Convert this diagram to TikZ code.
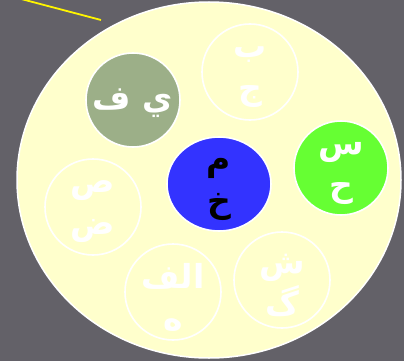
\documentclass[tikz,border=0pt]{standalone}
\usepackage{fontspec}
\usetikzlibrary{shapes.geometric}
\TeXXeTstate=1
\newfontfamily\arabicfont[Script=Arabic]{DejaVu Sans}
\definecolor{backdrop}{RGB}{99, 97, 104}
\definecolor{plate}{RGB}{255, 255, 204}
\definecolor{sage}{RGB}{156, 175, 136}
\definecolor{royal}{RGB}{51, 51, 255}
\definecolor{lime}{RGB}{102, 255, 51}
\definecolor{pointer}{RGB}{255, 245, 0}

\begin{document}
\begin{tikzpicture}[x=1pt, y=-1pt]
    \tikzstyle{letters} = [font=\arabicfont\bfseries\fontsize{33}{42}\selectfont, align=center, text=white, inner sep=0pt, yshift=-5pt]
    \tikzstyle{disc} = [draw=white, line width=1.6pt, ellipse, minimum width=96pt, minimum height=96pt, inner sep=0pt]
    \tikzstyle{ghost} = [disc, fill=plate]
    \tikzstyle{pointerline} = [draw=pointer, line width=1.8pt]

    % backdrop and plate
    \fill[backdrop] (0,0) rectangle (404,361);
    \useasboundingbox (0,0) rectangle (404,361);
    \draw[fill=plate, draw=white, line width=1.5pt] (209,180) ellipse [x radius=192, y radius=178];

    % Letters
    \node (yf) [disc, fill=sage, minimum width=94pt, minimum height=94pt, label={[letters, yshift=2pt]center:{\beginR ي ف\endR}}] at (133,100) {};
    \node (bj) [ghost, label={[letters]center:{\beginR ب\endR\\\beginR ج\endR}}] at (250,72) {};
    \node (mk) [disc, fill=royal, minimum width=104pt, minimum height=94pt, label={[letters, text=black]center:{\beginR م\endR\\\beginR خ\endR}}] at (219,184) {};
    \node (sh) [disc, fill=lime, minimum width=94pt, minimum height=94pt, label={[letters]center:{\beginR س\endR\\\beginR ح\endR}}] at (341,168) {};
    \node (sz) [ghost, label={[letters]center:{\beginR ص\endR\\\beginR ض\endR}}] at (93,207) {};
    \node (alf) [ghost, label={[letters]center:{\beginR الف\endR\\\beginR ه\endR}}] at (173,292) {};
    \node (shg) [ghost, label={[letters]center:{\beginR ش\endR\\\beginR گ\endR}}] at (282,280) {};

    % pointer
    \coordinate (p0) at (0,-6.6);
    \coordinate (p1) at (101,20);
    \draw [pointerline] (p0) -- (p1);
\end{tikzpicture}
\end{document}
